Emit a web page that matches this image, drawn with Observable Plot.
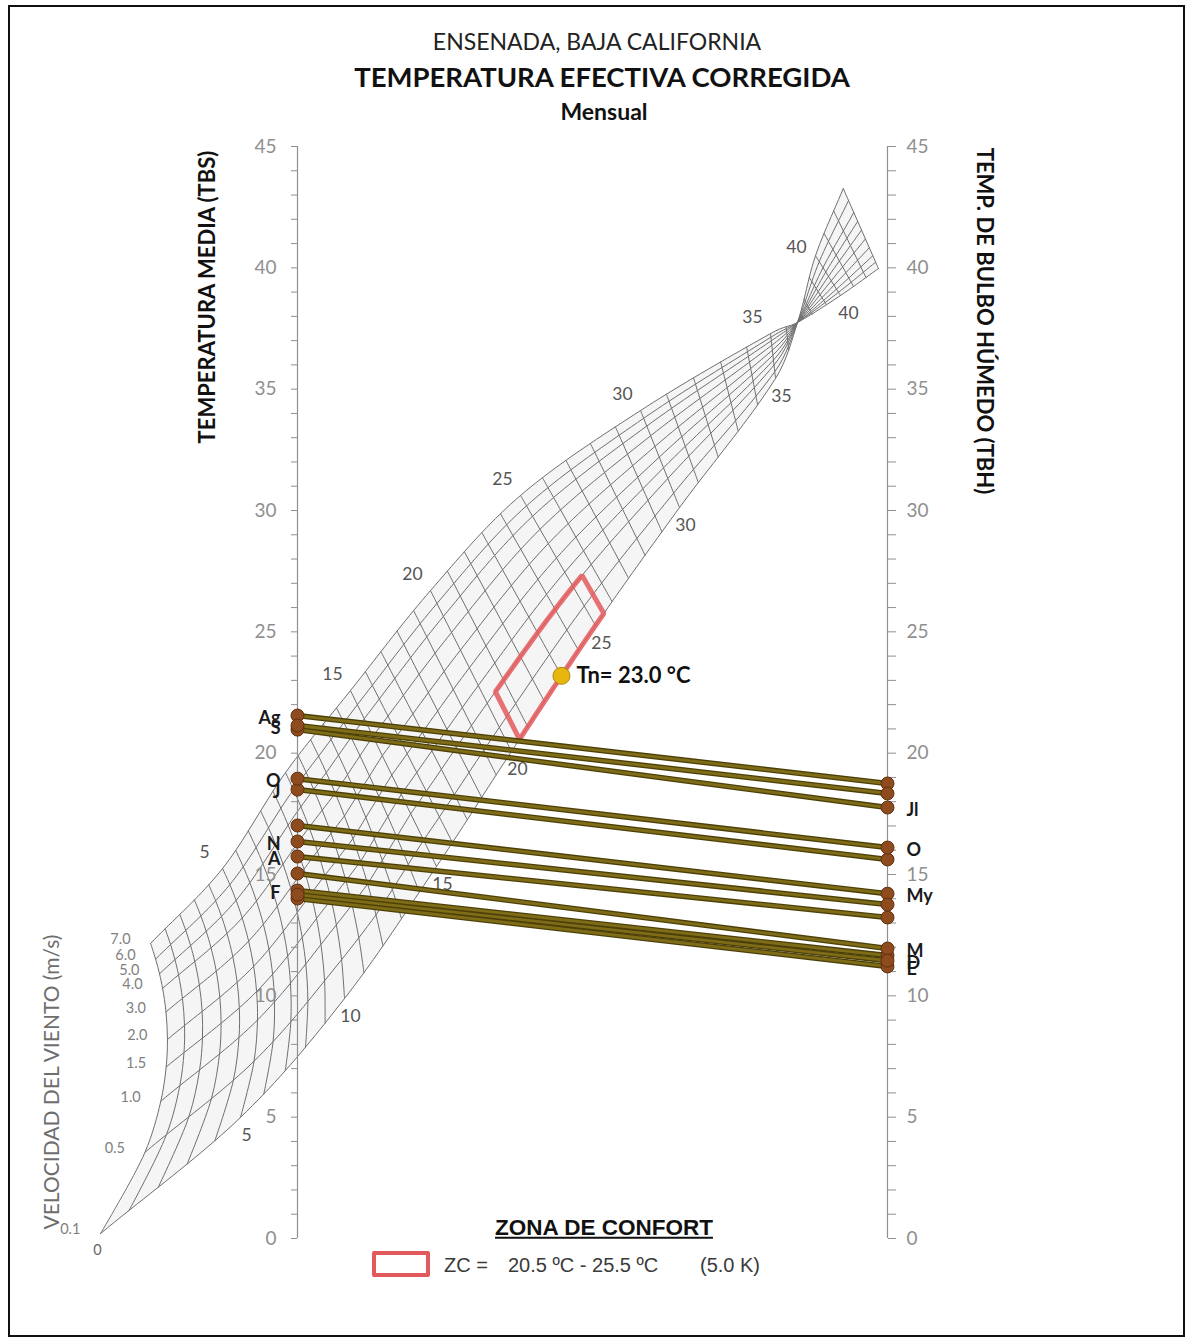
<!DOCTYPE html>
<html><head><meta charset="utf-8">
<script src="https://cdn.jsdelivr.net/npm/d3@7"></script>
<script src="https://cdn.jsdelivr.net/npm/@observablehq/plot@0.6"></script>
<style>
body{margin:0;background:#fff;}
#wrap{position:relative;width:1186px;height:1338px;overflow:hidden;font-family:Lato,sans-serif;background:#fff;}
#chart{position:absolute;left:0;top:0;}
#frame{position:absolute;left:8px;top:5px;width:1177px;height:1332px;border:2px solid #111;box-sizing:border-box;pointer-events:none;}
.t{position:absolute;white-space:nowrap;line-height:1;}
.c{transform:translate(-50%,-50%);}
.a{font-family:'Liberation Sans',Arial,sans-serif;}
</style></head><body>
<div id="wrap">
  <div id="chart"></div>
  <div id="frame"></div>
  <div class="t c" style="left:597px;top:41px;font-size:23px;color:#222;">ENSENADA, BAJA CALIFORNIA</div>
  <div class="t c" style="left:602px;top:77px;font-size:27.5px;font-weight:700;color:#111;">TEMPERATURA EFECTIVA CORREGIDA</div>
  <div class="t c" style="left:604px;top:111px;font-size:23px;font-weight:700;color:#111;">Mensual</div>
  <div class="t" style="left:207px;top:297px;transform:translate(-50%,-50%) rotate(-90deg);font-size:22px;font-weight:700;color:#111;">TEMPERATURA MEDIA (TBS)</div>
  <div class="t" style="left:985px;top:321px;transform:translate(-50%,-50%) rotate(90deg);font-size:22px;font-weight:700;color:#111;">TEMP. DE BULBO HÚMEDO (TBH)</div>
  <div class="t" style="left:50px;top:1082px;transform:translate(-50%,-50%) rotate(-90deg);font-size:21px;color:#6e6e6e;">VELOCIDAD DEL VIENTO (m/s)</div>
  <div class="t c a" style="left:604px;top:1228px;font-size:22.5px;font-weight:700;text-decoration:underline;color:#111;">ZONA DE CONFORT</div>
  <div class="t" style="left:372px;top:1251px;width:58px;height:26px;border:4px solid #e25a5c;box-sizing:border-box;border-radius:2px;"></div>
  <div class="t a" style="left:444px;top:1255px;font-size:20px;color:#3a3a3a;">ZC =</div>
  <div class="t a" style="left:508px;top:1255px;font-size:20px;color:#3a3a3a;">20.5 ºC - 25.5 ºC</div>
  <div class="t a" style="left:700px;top:1255px;font-size:20px;color:#3a3a3a;">(5.0 K)</div>
</div>
<script>
// ---- Monthly data ----
const MONTHS = ["E","F","M","A","My","J","Jl","Ag","S","O","N","D"];
const TBS = [14.01,14.34,15.04,15.74,17.02,18.50,20.97,21.55,21.14,18.95,16.36,14.17];   // left axis
const TBH = [11.21,11.66,11.95,13.23,14.21,15.62,17.76,18.75,18.34,16.11,13.76,11.45];   // right axis
const LEFT_LABELS = ["F","A","N","J","O","S","Ag"];
const RIGHT_LABELS = ["E","D","M","My","O","Jl"];

// ---- Comfort zone ----
const COMFORT_ET = [20.5, 25.5];
const COMFORT_WIND = [0.1, 1.0];
const TN = 23.0;

// ---- Nomogram grid (effective temperature x wind speed) ----
const ET_ANCHOR = [0,5,10,15,20,25,30,35,37,40,43];
const LOW_X  = [-33.4,-9.66,7.97,23.56,36.27,50.51,64.75,81.02,84.75,87.8,92.5];   // v = 0.1 m/s edge
const LOW_Y  = [0.2,4.99,9.89,15.33,20.07,25.26,30.12,35.44,37.75,40.5,43.27];
const HIGH_X = [-24.9,-12.7,-2.03,8.98,22.54,37.80,58.14,80.17,84.75,92.03,98.47]; // v = 7.0 m/s edge
const HIGH_Y = [12.16,15.25,19.2,22.58,26.70,30.62,34.12,37.29,37.75,38.86,39.97];
const WIND = [0.1,0.5,1.0,1.5,2.0,3.0,4.0,5.0,6.0,7.0];
const WIND_POS_ET0 = [0,0.28,0.456,0.574,0.669,0.764,0.845,0.895,0.946,1];   // spacing on the ET 0 line
const WIND_POS_MID = [0,0.15,0.30,0.41,0.52,0.63,0.74,0.84,0.92,1];          // spacing in the body of the grid
const WIND_LABELS = ["0.1","0.5","1.0","1.5","2.0","3.0","4.0","5.0","6.0","7.0"];
const ET_LINES = d3.range(0,44);
const ET_LABELS_UP = [5,15,20,25,30,35];
const ET_LABELS_LOW = [5,10,15,20,25,30,35];
const BOW0 = 6.4, BOW_END = 15, BLEND_END = 12;

function interp(p, et){
  const a = ET_ANCHOR, n = a.length;
  let k = 0; while (k < n-2 && et > a[k+1]) k++;
  const h = a[k+1]-a[k], s = (et-a[k])/h;
  const m = j => j<=0 ? (p[1]-p[0])/(a[1]-a[0]) : j>=n-1 ? (p[n-1]-p[n-2])/(a[n-1]-a[n-2]) : (p[j+1]-p[j-1])/(a[j+1]-a[j-1]);
  const s2=s*s, s3=s2*s;
  return (2*s3-3*s2+1)*p[k] + (s3-2*s2+s)*h*m(k) + (-2*s3+3*s2)*p[k+1] + (s3-s2)*h*m(k+1);
}
function tOf(i, et){
  const b = Math.min(1, et/BLEND_END);
  return WIND_POS_ET0[i]*(1-b) + WIND_POS_MID[i]*b;
}
function nodeT(et, t){
  const lx=interp(LOW_X,et), ly=interp(LOW_Y,et), hx=interp(HIGH_X,et), hy=interp(HIGH_Y,et);
  const bow = BOW0*Math.max(0,1-et/BOW_END)*4*t*(1-t);
  return {x: lx+t*(hx-lx)+bow, y: ly+t*(hy-ly)};
}
const node = (et, i) => nodeT(et, tOf(i, et));
const wi = v => WIND.indexOf(v);

const etLines = [];
for (const et of ET_LINES) WIND.forEach((v,i)=>etLines.push({et, ...node(et,i)}));
const windLines = [];
const fine = d3.range(0, 43.001, 0.25);
WIND.forEach((v,i)=>{ for (const et of fine) windLines.push({w:i, ...node(et,i)}); });

// outline for the soft surface fill
const outline = [];
for (const et of fine) outline.push(nodeT(et,0));
for (const t of d3.range(0,1.001,0.05)) outline.push(nodeT(43,t));
for (const et of [...fine].reverse()) outline.push(nodeT(et,1));
for (const t of d3.range(1,-0.001,-0.05)) outline.push(nodeT(0,t));

// comfort polygon
const i0 = wi(COMFORT_WIND[0]), i1 = wi(COMFORT_WIND[1]);
const zone = [];
for (const et of d3.range(COMFORT_ET[0], COMFORT_ET[1]+0.001, 0.25)) zone.push(node(et,i0));
for (const et of d3.range(COMFORT_ET[1], COMFORT_ET[0]-0.001, -0.25)) zone.push(node(et,i1));
zone.push(node(COMFORT_ET[0], i0));

const months = MONTHS.map((m,i)=>({m, tbs:TBS[i], tbh:TBH[i]}));
const labUp = ET_LABELS_UP.map(et=>({et, ...node(et,9)}));
const labLow = ET_LABELS_LOW.map(et=>({et, ...node(et,0)}));
const lab40a = [{et:40, ...node(40,0)}];
const lab40b = [{et:40, ...node(40,9)}];
const windLab = WIND.map((v,i)=>({s:WIND_LABELS[i], ...node(0,i)}));
const tn = [{...node(TN,0), s:`Tn= ${TN.toFixed(1)} °C`}];

const gridColor = "#6f6f6f", labColor = "#555", axisColor = "#8f8f8f";
const F = "Lato";

const chart = Plot.plot({
  width: 1186, height: 1338,
  marginLeft: 297, marginRight: 299, marginTop: 146, marginBottom: 100,
  x: {domain:[0,100], axis:null},
  y: {domain:[0,45], axis:null},
  style: {fontFamily: F, background: "transparent"},
  marks: [
    Plot.line(outline, {x:"x", y:"y", fill:"#f5f5f5", stroke:"none"}),
    Plot.line(etLines, {x:"x", y:"y", z:"et", curve:"catmull-rom", stroke:gridColor, strokeWidth:1}),
    Plot.line(windLines, {x:"x", y:"y", z:"w", stroke:gridColor, strokeWidth:1}),
    Plot.text(labUp, {x:"x", y:"y", text:"et", dx:-18, dy:-16, fontSize:17.5, fill:labColor, fontFamily:F}),
    Plot.text(labLow, {x:"x", y:"y", text:"et", dx:6, dy:18, fontSize:17.5, fill:labColor, fontFamily:F}),
    Plot.text(lab40a, {x:"x", y:"y", text:"et", dx:-19, dy:-8, fontSize:17.5, fill:labColor, fontFamily:F}),
    Plot.text(lab40b, {x:"x", y:"y", text:"et", dx:8, dy:18, fontSize:17.5, fill:labColor, fontFamily:F}),
    Plot.text(windLab, {x:"x", y:"y", text:"s", dx:-20, dy:-4, textAnchor:"end", fontSize:14.5, fill:"#808080", fontFamily:F}),
    Plot.text([node(0,0)], {x:"x", y:"y", text:()=>"0", dx:-3, dy:17, fontSize:14.5, fill:"#666", fontFamily:F}),
    Plot.ruleX([0,100], {y1:0, y2:45, stroke:axisColor, strokeWidth:1.2}),
    Plot.axisY({anchor:"left", ticks:d3.range(0,46), tickSize:6, tickPadding:15, tickFormat:d=>d%5===0?String(d):"", fontSize:19, color:axisColor, label:null}),
    Plot.axisY({anchor:"right", ticks:d3.range(0,46), tickSize:8, tickPadding:11, tickFormat:d=>d%5===0?String(d):"", fontSize:19, color:axisColor, label:null}),
    Plot.line(zone, {x:"x", y:"y", stroke:"#e4585b", strokeWidth:5, strokeOpacity:0.85, strokeLinejoin:"miter"}),
    Plot.link(months, {x1:()=>0, y1:"tbs", x2:()=>100, y2:"tbh", stroke:"#4c4008", strokeWidth:5.5}),
    Plot.link(months, {x1:()=>0, y1:"tbs", x2:()=>100, y2:"tbh", stroke:"#7f6c18", strokeWidth:2.8}),
    Plot.dot(months, {x:()=>0, y:"tbs", r:6.5, fill:"#8e4b1e", stroke:"#5e300f", strokeWidth:1}),
    Plot.dot(months, {x:()=>100, y:"tbh", r:6.5, fill:"#8e4b1e", stroke:"#5e300f", strokeWidth:1}),
    Plot.text(months.filter(d=>LEFT_LABELS.includes(d.m)), {x:()=>0, y:"tbs", text:"m", dx:-17, dy:3, textAnchor:"end", fontSize:18, fontWeight:"bold", fill:"#1a1a1a", fontFamily:F}),
    Plot.text(months.filter(d=>RIGHT_LABELS.includes(d.m)), {x:()=>100, y:"tbh", text:"m", dx:19, dy:3, textAnchor:"start", fontSize:18, fontWeight:"bold", fill:"#1a1a1a", fontFamily:F}),
    Plot.dot(tn, {x:"x", y:"y", r:8.5, fill:"#e7b70d", stroke:"#b0850a", strokeWidth:1}),
    Plot.text(tn, {x:"x", y:"y", text:"s", dx:15, textAnchor:"start", fontSize:22, fontWeight:"bold", fill:"#111", fontFamily:F})
  ]
});
document.getElementById("chart").appendChild(chart);
</script>
</body></html>
